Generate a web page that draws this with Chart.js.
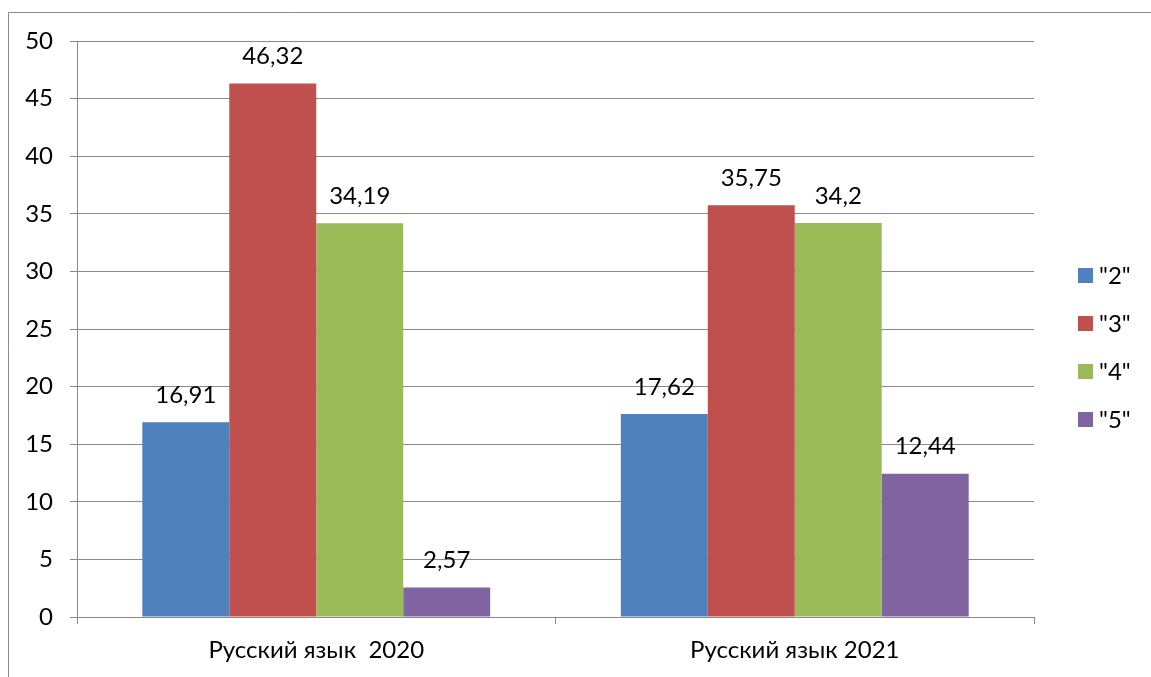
<!DOCTYPE html>
<html>
<head>
<meta charset="utf-8">
<script src="https://cdn.jsdelivr.net/npm/chart.js@4"></script>
<style>
  body { margin: 0; background: #fff; }
  #wrap { width: 1151px; height: 677px; position: relative; }
</style>
</head>
<body>
<div id="wrap"><canvas id="chart"></canvas></div>
<script>
const categories = ["Русский язык  2020", "Русский язык 2021"]
const seriesNames = ['"2"', '"3"', '"4"', '"5"']
const grade2 = [16.91, 17.62]
const grade3 = [46.32, 35.75]
const grade4 = [34.19, 34.2]
const grade5 = [2.57, 12.44]
const colors = ["#4F81BD", "#C0504D", "#9BBB59", "#8064A2"]

const FONT = "Lato"
const GRID = "#898989"

function fmt(v){
    return String(v).replace(".", ",")
}

// outer frame, value labels and the legend are drawn by hand
const extras = {
    id: "extras",
    beforeDraw(chart){
        const ctx = chart.ctx
        ctx.save()
        ctx.strokeStyle = GRID
        ctx.lineWidth = 1
        ctx.beginPath()
        ctx.moveTo(8.5, 677)
        ctx.lineTo(8.5, 12.5)
        ctx.lineTo(1151, 12.5)
        ctx.stroke()
        ctx.restore()
    },
    afterDatasetsDraw(chart){
        const ctx = chart.ctx
        ctx.save()
        ctx.font = "24px " + FONT
        ctx.fillStyle = "#000"
        ctx.textAlign = "center"
        ctx.textBaseline = "middle"
        chart.data.datasets.forEach((ds, i) => {
            chart.getDatasetMeta(i).data.forEach((bar, j) => {
                ctx.fillText(fmt(ds.data[j]), bar.x, bar.y - 27)
            })
        })

        // legend
        const startY = 275
        chart.data.datasets.forEach((ds, i) => {
            const y = startY + i * 48
            ctx.fillStyle = ds.backgroundColor
            ctx.fillRect(1078, y - 7, 15, 15)
            ctx.fillStyle = "#000"
            ctx.textAlign = "left"
            ctx.fillText(ds.label, 1099, y + 1)
        })
        ctx.restore()
    }
}

const datasets = [grade2, grade3, grade4, grade5].map((d, i) => ({
    label: seriesNames[i],
    data: d,
    backgroundColor: colors[i],
    borderWidth: 0,
    categoryPercentage: 0.727,
    barPercentage: 1
}))

new Chart(document.getElementById("chart"), {
    type: "bar",
    data: { labels: categories, datasets: datasets },
    options: {
        responsive: true,
        maintainAspectRatio: false,
        animation: false,
        layout: { padding: { top: 41, right: 117, left: 0, bottom: 0 } },
        plugins: {
            legend: { display: false },
            tooltip: { enabled: false }
        },
        scales: {
            y: {
                min: 0,
                max: 50,
                ticks: { stepSize: 5, color: "#000", padding: 17, font: { family: FONT, size: 24 } },
                grid: { color: GRID, lineWidth: 1, tickLength: 7 },
                border: { color: GRID, width: 1 },
                afterFit(scale){ scale.width = 77 }
            },
            x: {
                ticks: { color: "#000", padding: 12, font: { family: FONT, size: 24 } },
                grid: { color: GRID, drawOnChartArea: false, tickLength: 7, offset: true },
                border: { color: GRID, width: 1 },
                afterFit(scale){ scale.height = 60 }
            }
        }
    },
    plugins: [extras]
})
</script>
</body>
</html>
